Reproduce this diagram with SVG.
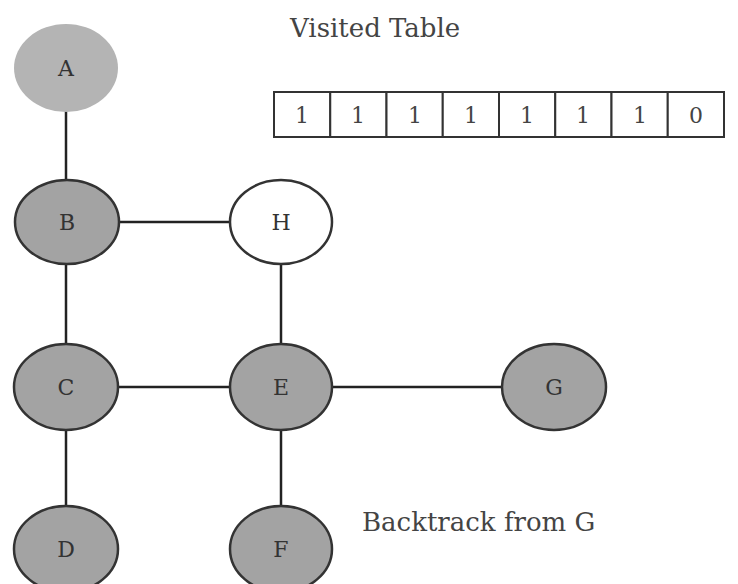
<svg xmlns="http://www.w3.org/2000/svg" width="738" height="584" viewBox="0 0 738 584">
<style>
.n{fill:#a3a3a3;stroke:#333;stroke-width:2.5}
.w{fill:#fff;stroke:#333;stroke-width:2.5}
.a{fill:#b4b4b4;stroke:none}
.l{font-family:"DejaVu Serif","Liberation Serif",serif;font-size:22px;fill:#333;text-anchor:middle}
.t{font-family:"DejaVu Serif","Liberation Serif",serif;font-size:26px;fill:#444}
.c{fill:#fff;stroke:#333;stroke-width:2}
.d{font-family:"DejaVu Serif","Liberation Serif",serif;font-size:22px;fill:#444;text-anchor:middle}
#edges line{stroke:#222;stroke-width:2.5}
</style>
<rect width="738" height="584" fill="#fff"/>
<g id="edges">
<line x1="66" y1="110" x2="66" y2="181"/>
<line x1="118" y1="222" x2="230" y2="222"/>
<line x1="66" y1="264" x2="66" y2="345"/>
<line x1="281" y1="264" x2="281" y2="345"/>
<line x1="118" y1="387" x2="230" y2="387"/>
<line x1="333" y1="387" x2="502" y2="387"/>
<line x1="66" y1="430" x2="66" y2="506"/>
<line x1="281" y1="430" x2="281" y2="506"/>
</g>
<g id="A"><ellipse class="a" cx="66" cy="68" rx="52" ry="44"/><text class="l" x="66" y="76">A</text></g>
<g id="B"><ellipse class="n" cx="67" cy="222" rx="52" ry="42"/><text class="l" x="67" y="230">B</text></g>
<g id="H"><ellipse class="w" cx="281" cy="222" rx="51" ry="42"/><text class="l" x="281" y="230">H</text></g>
<g id="C"><ellipse class="n" cx="66" cy="387" rx="52" ry="43"/><text class="l" x="66" y="395">C</text></g>
<g id="E"><ellipse class="n" cx="281" cy="387" rx="51" ry="43"/><text class="l" x="281" y="395">E</text></g>
<g id="G"><ellipse class="n" cx="554" cy="387" rx="52" ry="43"/><text class="l" x="554" y="395">G</text></g>
<g id="D"><ellipse class="n" cx="66" cy="549" rx="52" ry="43"/><text class="l" x="66" y="557">D</text></g>
<g id="F"><ellipse class="n" cx="281" cy="549" rx="51" ry="43"/><text class="l" x="281" y="557">F</text></g>
<g id="visited-table">
<text class="t" x="290" y="37">Visited Table</text>
<rect class="c" x="274" y="92" width="56.25" height="45"/>
<rect class="c" x="330.25" y="92" width="56.25" height="45"/>
<rect class="c" x="386.5" y="92" width="56.25" height="45"/>
<rect class="c" x="442.75" y="92" width="56.25" height="45"/>
<rect class="c" x="499" y="92" width="56.25" height="45"/>
<rect class="c" x="555.25" y="92" width="56.25" height="45"/>
<rect class="c" x="611.5" y="92" width="56.25" height="45"/>
<rect class="c" x="667.75" y="92" width="56.25" height="45"/>
<text class="d" x="302" y="123">1</text>
<text class="d" x="358" y="123">1</text>
<text class="d" x="415" y="123">1</text>
<text class="d" x="471" y="123">1</text>
<text class="d" x="527" y="123">1</text>
<text class="d" x="583" y="123">1</text>
<text class="d" x="640" y="123">1</text>
<text class="d" x="696" y="123">0</text>
</g>
<text id="caption" class="t" x="362" y="531">Backtrack from G</text>
</svg>
